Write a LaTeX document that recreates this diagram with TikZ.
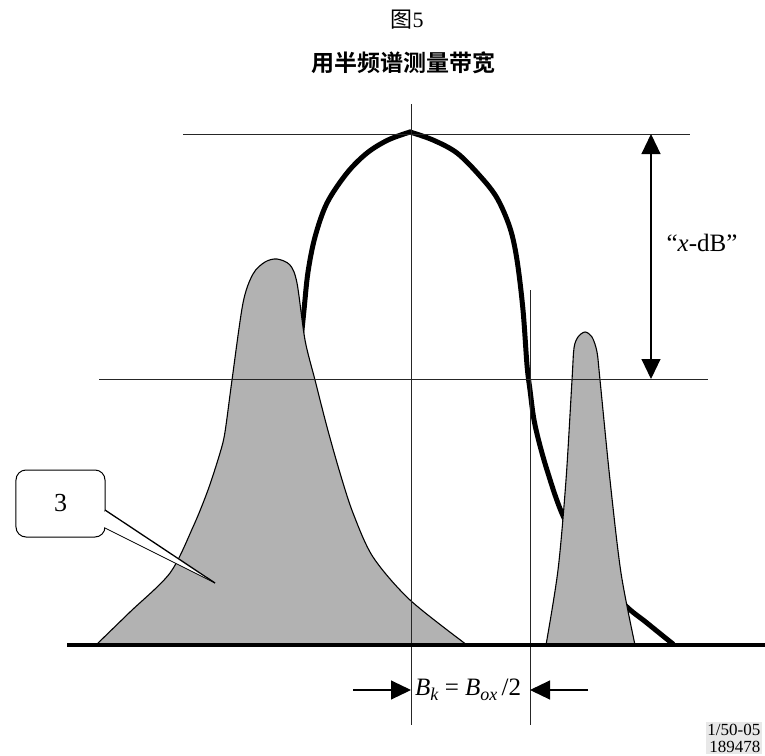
\documentclass[tikz,border=0pt]{standalone}
\usepackage{fontspec}
\setmainfont{Liberation Serif}
\newfontfamily\cjk{Noto Sans CJK SC}
\newfontfamily\cjkbold{Noto Sans CJK SC Bold}
\usetikzlibrary{arrows.meta}
\newcommand\lowsub[1]{\raisebox{-0.4ex}{\fontsize{18bp}{20bp}\selectfont\textit{#1}}}
\begin{document}
\begin{tikzpicture}[x=1bp,y=-1bp,
  guide/.style={line width=1bp,draw=black!85},
  resp/.style={line width=5bp,line join=round,line cap=round},
  spec/.style={fill=black!30,draw=black,line width=1.1bp},
  dimarrow/.style={line width=1.1bp,-{Triangle[length=20bp,width=19bp]}},
  lbl/.style={font=\fontsize{22bp}{26bp}\selectfont,inner sep=0pt},
  calloutbox/.style={draw,fill=white,line width=1bp,rounded corners=10bp,
    minimum width=89bp,minimum height=67bp,inner sep=0pt,
    font=\fontsize{26bp}{28bp}\selectfont},
  codebox/.style={fill=black!9,inner sep=1.5bp,align=right,
    font=\fontsize{17bp}{17bp}\selectfont}]
\useasboundingbox (0,0) rectangle (765,756);

% coordinates
\coordinate (tl) at (183,134); \coordinate (tr) at (690,134);
\coordinate (ml) at (99,379);  \coordinate (mr) at (708,379);
\coordinate (ct) at (411,104); \coordinate (cb) at (411,725);
\coordinate (rt) at (530,290); \coordinate (rb) at (530,725);
\coordinate (bl) at (67,645);  \coordinate (br) at (765,645);
\coordinate (dt) at (651,134); \coordinate (db) at (651,379);
\coordinate (la) at (353,690); \coordinate (lae) at (411,690);
\coordinate (ra) at (588,690); \coordinate (rae) at (530,690);

% titles
\node[lbl] (fig) at (407,20) {{\cjk 图}5};
\node[lbl,font=\fontsize{23bp}{26bp}\selectfont] (title) at (403,63) {\cjkbold 用半频谱测量带宽};

% response curve (thick)
\draw[resp] plot[smooth,tension=0.55] coordinates {(300,350) (304,310) (308,272) (315,237) (327,203) (347,173) (367,153) (388,140) (410,132)};
\draw[resp] plot[smooth,tension=0.55] coordinates {(410,132) (433,140) (457,153) (480,176) (497,198) (510,228) (517,260) (523,310) (527,365) (530,390) (535,425) (547,470) (565,520) (594,565) (623,603) (647,623) (673,644)};

% gray spectra
\draw[spec] plot[smooth,tension=0.5] coordinates {(96,645) (130,612) (170,573) (193,527) (208,490) (220,453) (225,432) (232,380) (243,303) (253,274) (265,262) (277,259) (290,265) (297,283) (305,340) (315,380) (327,427) (340,473) (353,513) (373,557) (410,600) (467,645)} -- cycle;
\draw[spec] plot[smooth,tension=0.5] coordinates {(546,645) (558,570) (566,480) (572,380) (574,348) (578,337) (585,332) (592,337) (597,352) (600,380) (610,480) (621,573) (635,645)} -- cycle;

% guide lines
\draw[guide] (tl) -- (tr);
\draw[guide] (ml) -- (mr);
\draw[guide] (ct) -- (cb);
\draw[guide] (rt) -- (rb);

% baseline
\draw[line width=4bp] (bl) -- (br);

% x-dB dimension
\draw[dimarrow,{Triangle[length=20bp,width=19bp]}-{Triangle[length=20bp,width=19bp]}] (dt) -- (db);
\node[lbl,font=\fontsize{25bp}{28bp}\selectfont] (xdb) at (702,243) {“\textit{x}-dB”};

% bandwidth arrows
\draw[dimarrow] (la) -- (lae);
\draw[dimarrow] (ra) -- (rae);
\node[lbl,font=\fontsize{25bp}{28bp}\selectfont] (bk) at (468,690) {\textit{B}\lowsub{k} = \textit{B}\lowsub{ox}\,/2};

% callout
\node[calloutbox] (c3) at (60.5,503.5) {3};
\coordinate (p1) at (105,510);
\coordinate (p2) at (105,528);
\coordinate (pt) at (215,583);
\fill[white] (p1) -- (pt) -- (p2) -- cycle;
\fill[white] (103,511.5) rectangle (107,526.5);
\draw[line width=1.3bp] (p1) -- (pt);
\draw[line width=0.8bp] (p2) -- (pt);

% code label
\node[codebox,anchor=south east] (code) at (762,754) {1/50-05\\189478};
\end{tikzpicture}
\end{document}
